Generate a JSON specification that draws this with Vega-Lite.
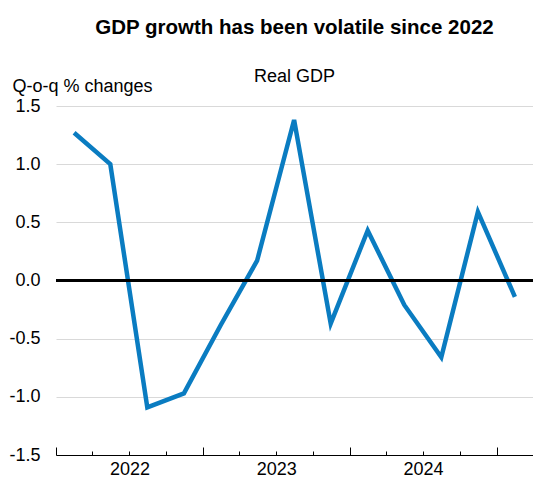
{
  "$schema": "https://vega.github.io/schema/vega-lite/v6.json",
  "width": 477,
  "height": 349,
  "autosize": {"type": "none"},
  "padding": {"left": 56, "top": 106, "right": 0, "bottom": 22},
  "background": "white",
  "config": {"font": "Liberation Sans", "view": {"stroke": null}},
  "title": {
    "text": "GDP growth has been volatile since 2022",
    "subtitle": "Real GDP",
    "fontSize": 20.5,
    "fontWeight": "bold",
    "color": "black",
    "subtitleFontSize": 18,
    "subtitleColor": "black",
    "subtitleFont": "Liberation Sans",
    "anchor": "middle",
    "offset": -9,
    "subtitlePadding": 30
  },
  "data": {
    "values": [
      {"quarter": "2022 Q1", "date": "2022-02-15", "growth": 1.27},
      {"quarter": "2022 Q2", "date": "2022-05-16", "growth": 1.0},
      {"quarter": "2022 Q3", "date": "2022-08-16", "growth": -1.09},
      {"quarter": "2022 Q4", "date": "2022-11-15", "growth": -0.97},
      {"quarter": "2023 Q1", "date": "2023-02-15", "growth": -0.38},
      {"quarter": "2023 Q2", "date": "2023-05-16", "growth": 0.17},
      {"quarter": "2023 Q3", "date": "2023-08-16", "growth": 1.38},
      {"quarter": "2023 Q4", "date": "2023-11-15", "growth": -0.37},
      {"quarter": "2024 Q1", "date": "2024-02-15", "growth": 0.43},
      {"quarter": "2024 Q2", "date": "2024-05-16", "growth": -0.21},
      {"quarter": "2024 Q3", "date": "2024-08-16", "growth": -0.66},
      {"quarter": "2024 Q4", "date": "2024-11-15", "growth": 0.59},
      {"quarter": "2025 Q1", "date": "2025-02-15", "growth": -0.14}
    ]
  },
  "layer": [
    {
      "mark": {"type": "line", "color": "#0a7cc1", "strokeWidth": 4.5},
      "encoding": {
        "x": {
          "field": "date",
          "type": "temporal",
          "scale": {
            "type": "utc",
            "domain": [
              {"year": 2022, "month": 1, "date": 1, "utc": true},
              {"year": 2025, "month": 4, "date": 1, "utc": true}
            ]
          },
          "axis": {
            "title": null,
            "values": [
              {"year": 2022, "month": 1, "date": 1, "utc": true},
              {"year": 2022, "month": 4, "date": 1, "utc": true},
              {"year": 2022, "month": 7, "date": 1, "utc": true},
              {"year": 2022, "month": 10, "date": 1, "utc": true},
              {"year": 2023, "month": 1, "date": 1, "utc": true},
              {"year": 2023, "month": 4, "date": 1, "utc": true},
              {"year": 2023, "month": 7, "date": 1, "utc": true},
              {"year": 2023, "month": 10, "date": 1, "utc": true},
              {"year": 2024, "month": 1, "date": 1, "utc": true},
              {"year": 2024, "month": 4, "date": 1, "utc": true},
              {"year": 2024, "month": 7, "date": 1, "utc": true},
              {"year": 2024, "month": 10, "date": 1, "utc": true},
              {"year": 2025, "month": 1, "date": 1, "utc": true}
            ],
            "grid": false,
            "domainColor": "black",
            "domainWidth": 1,
            "tickColor": "black",
            "tickWidth": 1,
            "tickSize": {"condition": {"test": "utcmonth(datum.value) == 0", "value": -8}, "value": -4},
            "labelExpr": "utcmonth(datum.value) == 0 && utcyear(datum.value) < 2025 ? '' + utcyear(datum.value) : ''",
            "labelOffset": 73.5,
            "labelFontSize": 18,
            "labelColor": "black",
            "labelPadding": 13,
            "labelFlush": false,
            "labelOverlap": false,
            "labelBound": false
          }
        },
        "y": {
          "field": "growth",
          "type": "quantitative",
          "scale": {"domain": [-1.5, 1.5], "nice": false, "zero": false},
          "axis": {
            "title": "Q-o-q % changes",
            "titleAngle": 0,
            "titleAlign": "left",
            "titleBaseline": "alphabetic",
            "titleX": -44,
            "titleY": -15,
            "titleFontSize": 18,
            "titleFontWeight": "normal",
            "titleColor": "black",
            "values": [-1.5, -1, -0.5, 0, 0.5, 1, 1.5],
            "labelExpr": "replace(format(datum.value, '.1f'), '\u2212', '-')",
            "domain": false,
            "ticks": false,
            "grid": true,
            "gridColor": "#d9d9d9",
            "gridWidth": 1,
            "labelFontSize": 18,
            "labelColor": "black",
            "labelPadding": 16
          }
        }
      }
    },
    {
      "mark": {"type": "rule", "color": "black", "strokeWidth": 2.5},
      "encoding": {"y": {"datum": 0, "type": "quantitative"}}
    }
  ]
}
